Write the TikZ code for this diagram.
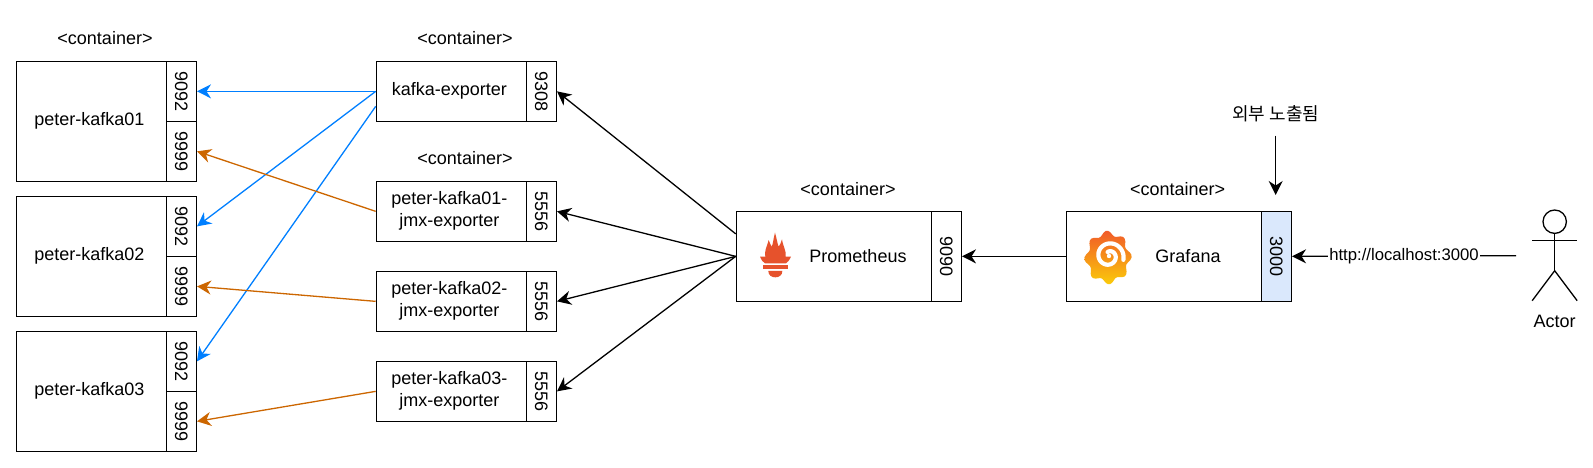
\documentclass[tikz,border=0pt]{standalone}
\usepackage{fontspec}
\usepackage{graphicx}
\setmainfont{Liberation Sans}
\newfontfamily\krfont{Noto Sans CJK KR}
\usetikzlibrary{arrows.meta}
\definecolor{linkblue}{HTML}{007FFF}
\definecolor{linkorange}{HTML}{CC6600}
\definecolor{portblue}{HTML}{DAE8FC}
\definecolor{promred}{HTML}{E6522C}
\definecolor{graftop}{HTML}{F15A29}
\definecolor{grafbot}{HTML}{FBCB0A}
\tikzset{
  txt/.style={font=\fontsize{18}{22}\selectfont, inner sep=0pt, align=center},
  boxn/.style={draw=black, line width=1.3pt, fill=white, anchor=north west, inner sep=0pt, font=\fontsize{18}{22}\selectfont},
  hostbox/.style={boxn, minimum width=150pt, minimum height=120pt},
  expbox/.style={boxn, minimum width=150pt, minimum height=60pt},
  appbox/.style={boxn, minimum width=195pt, minimum height=90pt},
  portshort/.style={boxn, minimum width=30pt, minimum height=60pt},
  porttall/.style={boxn, minimum width=30pt, minimum height=90pt},
  lnk/.style={line width=1.3pt, -{Stealth[length=14pt,width=14pt,inset=4.5pt]}},
  bluelnk/.style={lnk, draw=linkblue, -{Stealth[length=14pt,width=14pt,inset=4.5pt,fill=linkblue]}},
  orangelnk/.style={lnk, draw=linkorange, -{Stealth[length=14pt,width=14pt,inset=4.5pt,fill=linkorange]}},
  stick/.style={line width=1.3pt, draw=black}
}
\newcommand{\portnum}[1]{\rotatebox{-90}{#1}}
\newcommand{\boxtext}[1]{\kern-4pt\begin{tabular}{@{}c@{}}#1\end{tabular}}
\begin{document}
\begin{tikzpicture}[x=1pt,y=-1pt]
\useasboundingbox (0,0) rectangle (1593,467);
% container captions
\node[txt] (c1) at (105,38) {<container>};
\node[txt] (c2) at (465,38) {<container>};
\node[txt] (c3) at (465,158) {<container>};
\node[txt] (c4) at (848,189) {<container>};
\node[txt] (c5) at (1177.7,189) {<container>};
% kafka brokers
\node[hostbox] (k1) at (15.7,60.7) {\boxtext{peter-kafka01}};
\node[portshort] (k1a) at (165.7,60.7) {\portnum{9092}};
\node[portshort] (k1b) at (165.7,120.7) {\portnum{9999}};
\node[hostbox] (k2) at (15.7,195.7) {\boxtext{peter-kafka02}};
\node[portshort] (k2a) at (165.7,195.7) {\portnum{9092}};
\node[portshort] (k2b) at (165.7,255.7) {\portnum{9999}};
\node[hostbox] (k3) at (15.7,330.7) {\boxtext{peter-kafka03}};
\node[portshort] (k3a) at (165.7,330.7) {\portnum{9092}};
\node[portshort] (k3b) at (165.7,390.7) {\portnum{9999}};
% exporters
\node[expbox] (e0) at (375.7,60.7) {\boxtext{kafka-exporter}};
\node[portshort] (e0p) at (525.7,60.7) {\portnum{9308}};
\node[expbox] (e1) at (375.7,180.7) {\boxtext{peter-kafka01-\\jmx-exporter}};
\node[portshort] (e1p) at (525.7,180.7) {\portnum{5556}};
\node[expbox] (e2) at (375.7,270.7) {\boxtext{peter-kafka02-\\jmx-exporter}};
\node[portshort] (e2p) at (525.7,270.7) {\portnum{5556}};
\node[expbox] (e3) at (375.7,360.7) {\boxtext{peter-kafka03-\\jmx-exporter}};
\node[portshort] (e3p) at (525.7,360.7) {\portnum{5556}};
% prometheus, grafana
\node[appbox] (pr) at (735.7,210.7) {};
\node[porttall] (prp) at (930.7,210.7) {\portnum{9090}};
\node[txt] (prt) at (858,255.7) {Prometheus};
\node[appbox] (gr) at (1065.7,210.7) {};
\node[porttall, fill=portblue] (grp) at (1260.7,210.7) {\portnum{3000}};
\node[txt] (grt) at (1188,255.7) {Grafana};
% prometheus logo
\begin{scope}[shift={(720,190)},x=0.3333pt,y=-0.3333pt]
\fill[promred] (120,200) .. controls (128,200) and (132,200) .. (136,200)
  .. controls (132,185) and (140,172) .. (146,150)
  .. controls (150,160) and (152,165) .. (155,170)
  .. controls (160,160) and (160,145) .. (165,128)
  .. controls (170,145) and (172,160) .. (176,170)
  .. controls (180,165) and (183,158) .. (186,148)
  .. controls (190,172) and (200,185) .. (197,200)
  -- (213,200) .. controls (208,210) and (203,218) .. (198,220)
  -- (135,220) .. controls (130,218) and (124,210) .. (120,200) -- cycle;
\fill[promred] (130,226) rectangle (203,238);
\fill[promred] (145,243) -- (187,243) .. controls (187,255) and (178,262) .. (166,262)
  .. controls (154,262) and (145,255) .. (145,243) -- cycle;
\end{scope}
% grafana logo
\shade[top color=graftop, bottom color=grafbot, draw=none]
  plot[smooth cycle, samples=64, domain=0:354.375]
  ({1108+(21.5+2.2*cos(8*\x+22))*cos(\x)},{257.5+(24.5+2.4*cos(8*\x+22))*sin(\x)});
\draw[white, line width=4.2pt, line cap=round]
  plot[smooth, samples=60, domain=15:-470]
  ({1109+(4.2+0.022*(\x+470))*cos(\x)},{256+(4.2+0.022*(\x+470))*sin(\x)});
\fill[white] (1109,256) circle (2.2pt);
% actor
\node[draw=black, line width=1.3pt, circle, minimum size=23.4pt, inner sep=0pt] (head) at (1554.7,221.7) {};
\coordinate (hip) at (1554.7,270.7);
\coordinate (armL) at (1532.2,240.7);
\coordinate (armR) at (1577.2,240.7);
\coordinate (legL) at (1532.2,300.7);
\coordinate (legR) at (1577.2,300.7);
\draw[stick] (head.south) -- (hip);
\draw[stick] (armL) -- (armR);
\draw[stick] (legL) -- (hip) -- (legR);
\node[txt] (actor) at (1554.7,321) {Actor};
% external label
\node[txt, minimum height=43pt] (ext) at (1275.7,114) {\krfont 외부 노출됨};
\coordinate (extend) at (1275.7,195);
\draw[lnk] (ext.south) -- (extend);
% connectors
\coordinate (userend) at (1516,255.7);
\draw[lnk] (userend) -- node[txt, font=\fontsize{16.7}{20}\selectfont, fill=white, inner xsep=1pt, inner ysep=1pt] (url) {http://localhost:3000} (grp.east);
\draw[lnk] (gr.west) -- (prp.east);
\draw[lnk] ([yshift=22.5pt]pr.west) -- (e0p.east);
\draw[lnk] (pr.west) -- (e1p.east);
\draw[lnk] (pr.west) -- (e2p.east);
\draw[lnk] (pr.west) -- (e3p.east);
\draw[bluelnk] (e0.west) -- (k1a.east);
\draw[bluelnk] (e0.west) -- (k2a.east);
\draw[bluelnk] ([yshift=-15pt]e0.west) -- (k3a.east);
\draw[orangelnk] (e1.west) -- (k1b.east);
\draw[orangelnk] (e2.west) -- (k2b.east);
\draw[orangelnk] (e3.west) -- (k3b.east);
\end{tikzpicture}
\end{document}
